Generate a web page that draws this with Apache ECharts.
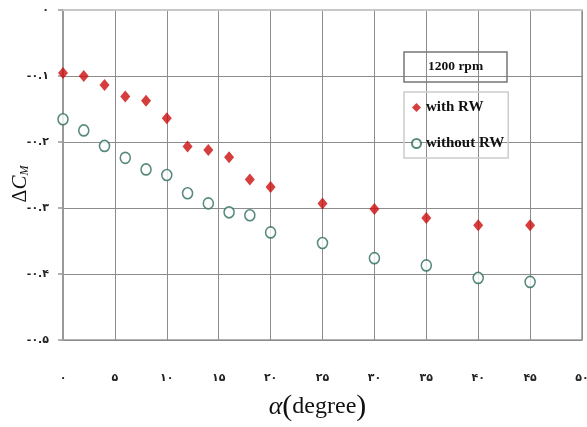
<!DOCTYPE html>
<html>
<head>
<meta charset="utf-8">
<script src="https://cdn.jsdelivr.net/npm/echarts@6/dist/echarts.min.js"></script>
<style>html,body{margin:0;padding:0;background:#fff}#c{width:587px;height:427px}</style>
</head>
<body>
<div id="c"></div>
<script>
const alphaDeg = [0, 2, 4, 6, 8, 10, 12, 14, 16, 18, 20, 25, 30, 35, 40, 45];
const withRW = [-0.0955, -0.100, -0.1135, -0.131, -0.1375, -0.164, -0.207, -0.212, -0.223, -0.257, -0.268, -0.293, -0.3015, -0.315, -0.326, -0.326];
const withoutRW = [-0.1655, -0.1825, -0.206, -0.224, -0.2416, -0.250, -0.2776, -0.293, -0.3065, -0.311, -0.337, -0.353, -0.376, -0.387, -0.406, -0.412];
const xTickLabels = ['۰', '۵', '۱۰', '۱۵', '۲۰', '۲۵', '۳۰', '۳۵', '۴۰', '۴۵', '۵۰'];
const yTickLabels = ['۰', '-۰.۱', '-۰.۲', '-۰.۳', '-۰.۴', '-۰.۵'];
const seriesNames = ['with RW', 'without RW'];
const titleText = '1200 rpm';

const chart = echarts.init(document.getElementById('c'), null, {renderer: 'canvas'});
const serif = '"Liberation Serif", "DejaVu Serif", serif';
const labelFont = '"DejaVu Sans", "Noto Sans", sans-serif';
chart.setOption({
  animation: false,
  backgroundColor: '#fff',
  title: {
    text: titleText, left: 404, top: 52,
    padding: [8, 24, 8, 24],
    borderColor: '#777', borderWidth: 1.5,
    textStyle: {fontFamily: serif, fontWeight: 'bold', fontSize: 13.5, color: '#111'}
  },
  legend: {
    orient: 'vertical', left: 404, top: 92,
    padding: [8, 4, 7, 7], itemGap: 21,
    itemWidth: 9, itemHeight: 9,
    borderColor: '#ccc', borderWidth: 1.5,
    textStyle: {fontFamily: serif, fontWeight: 'bold', fontSize: 15, color: '#111'},
    data: seriesNames
  },
  grid: {left: 63, right: 5, top: 10, bottom: 87, show: true, borderColor: '#999', borderWidth: 1.5,
         containLabel: false, outerBoundsMode: 'none'},
  xAxis: {
    type: 'value', min: 0, max: 50, interval: 5,
    axisLine: {show: true, lineStyle: {color: '#c8c8c8', width: 2}},
    axisTick: {show: false},
    splitLine: {show: true, lineStyle: {color: '#8c8c8c', width: 1}},
    axisLabel: {
      margin: 33, fontFamily: labelFont, fontSize: 11, fontWeight: 'bold', color: '#222',
      formatter: v => xTickLabels[Math.round(v / 5)]
    },
    name: '{a|α}{p|(}{b|degree}{p|)}',
    nameLocation: 'middle', nameGap: 52, nameMoveOverlap: false,
    nameTextStyle: {
      padding: [0, 10, 0, 0],
      rich: {
        a: {fontFamily: serif, fontStyle: 'italic', fontSize: 26, color: '#111'},
        p: {fontFamily: serif, fontSize: 30, color: '#111'},
        b: {fontFamily: serif, fontSize: 24, color: '#111'}
      }
    }
  },
  yAxis: {
    type: 'value', min: -0.5, max: 0, interval: 0.1,
    axisLine: {show: true, lineStyle: {color: '#999', width: 2}},
    axisTick: {show: true, length: 5, lineStyle: {color: '#999', width: 1.5}},
    splitLine: {show: true, lineStyle: {color: '#8c8c8c', width: 1}},
    axisLabel: {
      margin: 14, fontFamily: labelFont, fontSize: 11, fontWeight: 'bold', color: '#222',
      formatter: v => yTickLabels[Math.round(-v * 10)]
    },
    name: '{d|Δ}{c|C}{m|M}{s| }',
    nameLocation: 'middle', nameGap: 32, nameRotate: 90, nameMoveOverlap: false,
    nameTextStyle: {
      rich: {
        d: {fontFamily: serif, fontSize: 20, color: '#111'},
        c: {fontFamily: serif, fontStyle: 'italic', fontSize: 21, color: '#111'},
        m: {fontFamily: serif, fontStyle: 'italic', fontSize: 12, color: '#111', padding: [8, 0, 0, 0]},
        s: {fontSize: 10, width: 18}
      }
    }
  },
  series: [
    {
      name: seriesNames[0], type: 'scatter', symbol: 'diamond', symbolSize: [10, 12],
      itemStyle: {color: '#cc0d0d'},
      data: alphaDeg.map((a, i) => [a, withRW[i]])
    },
    {
      name: seriesNames[1], type: 'scatter', symbol: 'circle', symbolSize: [10, 11],
      itemStyle: {color: '#ffffff', borderColor: '#2e6b5e', borderWidth: 1.6},
      data: alphaDeg.map((a, i) => [a, withoutRW[i]])
    }
  ]
});
</script>
</body>
</html>
